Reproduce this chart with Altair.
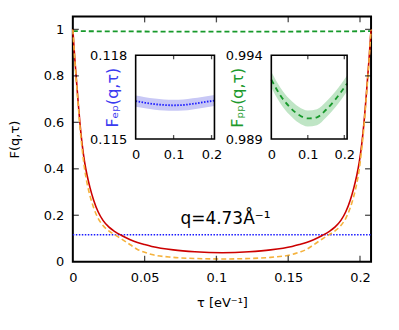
import altair as alt
import pandas as pd

TAU_MAX = 0.2077

# main curves
tau = [0.0, 0.0013, 0.0026, 0.0038, 0.0049, 0.0065, 0.0083, 0.0100, 0.0120, 0.0145,
       0.0176, 0.0210, 0.0250, 0.0290, 0.0340, 0.0400, 0.0450, 0.0500, 0.0550, 0.0700,
       0.0850, 0.1040, 0.1227, 0.1377, 0.1527, 0.1577, 0.1627, 0.1677, 0.1737, 0.1787,
       0.1827, 0.1867, 0.1901, 0.1932, 0.1957, 0.1977, 0.1994, 0.2012, 0.2028, 0.2039,
       0.2051, 0.2064, 0.2077]
f_red = [1.000, 0.880, 0.775, 0.680, 0.600, 0.505, 0.425, 0.370, 0.318, 0.265,
         0.215, 0.178, 0.150, 0.131, 0.113, 0.095, 0.083, 0.074, 0.066, 0.051,
         0.043, 0.039, 0.043, 0.051, 0.066, 0.074, 0.083, 0.095, 0.113, 0.131,
         0.150, 0.178, 0.215, 0.265, 0.318, 0.370, 0.425, 0.505, 0.600, 0.680,
         0.775, 0.880, 1.000]
f_orange = [1.000, 0.875, 0.765, 0.670, 0.585, 0.485, 0.395, 0.335, 0.283, 0.232,
            0.187, 0.156, 0.133, 0.117, 0.098, 0.073, 0.053, 0.041, 0.031, 0.019,
            0.014, 0.012, 0.014, 0.019, 0.031, 0.041, 0.053, 0.073, 0.098, 0.117,
            0.133, 0.156, 0.187, 0.232, 0.283, 0.335, 0.395, 0.485, 0.585, 0.670,
            0.765, 0.875, 1.000]

# F_ep and F_pp with error bands
tau_s = [0.0, 0.025, 0.05, 0.075, 0.1, 0.125, 0.15, 0.175, 0.2077]
f_ep = [0.11636, 0.11630, 0.11625, 0.11622, 0.11621, 0.11622, 0.11626, 0.11631, 0.11638]
f_ep_err = [0.00020, 0.00020, 0.00020, 0.00020, 0.00020, 0.00020, 0.00020, 0.00020, 0.00020]
f_pp = [0.99255, 0.99160, 0.99092, 0.99045, 0.99023, 0.99030, 0.99075, 0.99135, 0.99232]
f_pp_err = [0.00047, 0.00047, 0.00047, 0.00048, 0.00048, 0.00048, 0.00047, 0.00047, 0.00047]

main_xticks = [0.05, 0.1, 0.15, 0.2]
main_yticks = [0.2, 0.4, 0.6, 0.8, 1.0]
inset_xticks = [0.1, 0.2]

FONT = "DejaVu Sans"
RED = "#cc0000"
ORANGE = "#f5b23d"
BLUE = "#1a1aff"
GREEN = "#17992b"

df_main = pd.DataFrame({"tau": tau, "red": f_red, "orange": f_orange})
df_s = pd.DataFrame({"tau": tau_s, "ep": f_ep, "ep_err": f_ep_err,
                     "pp": f_pp, "pp_err": f_pp_err})
df_s["ep_lo"] = df_s["ep"] - df_s["ep_err"]
df_s["ep_hi"] = df_s["ep"] + df_s["ep_err"]
df_s["pp_lo"] = df_s["pp"] - df_s["pp_err"]
df_s["pp_hi"] = df_s["pp"] + df_s["pp_err"]
one = pd.DataFrame({"a": [0]})

# ---------- main panel ----------
YMAX = 1.056
sx = alt.Scale(domain=[0, TAU_MAX], nice=False, zero=False)
sy = alt.Scale(domain=[0, YMAX], nice=False, zero=False)
ax = alt.Axis(orient="bottom", values=[0, 0.05, 0.1, 0.15, 0.2], format="~g", ticks=False,
              tickSize=0, domain=False, grid=False, labelPadding=10, labelFlush=False,
              labelOverlap=False, title="τ [eV⁻¹]", titleY=41, titleBaseline="middle")
ay = alt.Axis(orient="left", values=[0, 0.2, 0.4, 0.6, 0.8, 1.0], format="~g", ticks=False,
              tickSize=0, domain=False, grid=False, labelPadding=9, labelOverlap=False,
              title="F(q,τ)", titleX=-58, titleY=123, titleAngle=270,
              titleAlign="center", titleBaseline="middle")

X = lambda f: alt.X(f, type="quantitative", scale=sx, axis=ax)
Y = lambda f: alt.Y(f, type="quantitative", scale=sy, axis=ay)

red = alt.Chart(df_main).mark_line(color=RED, strokeWidth=1.6, interpolate="monotone").encode(
    x=X("tau"), y=Y("red"))
orange = alt.Chart(df_main).mark_line(color=ORANGE, strokeWidth=1.6, strokeDash=[5, 3],
                                      interpolate="monotone").encode(x=X("tau"), y=Y("orange"))
blue_main = alt.Chart(df_s).mark_line(color=BLUE, strokeWidth=1.5, strokeDash=[1.5, 1.5],
                                      interpolate="monotone").encode(x=X("tau"), y=Y("ep"))
green_main = alt.Chart(df_s).mark_line(color=GREEN, strokeWidth=1.8, strokeDash=[5, 3],
                                       interpolate="monotone").encode(x=X("tau"), y=Y("pp"))
qlabel = alt.Chart(one).mark_text(text="q=4.73Å⁻¹", font=FONT, fontSize=17, align="center",
                                  baseline="alphabetic", color="black").encode(
    x=alt.X(datum=0.1063, type="quantitative", scale=sx, axis=ax),
    y=alt.Y(datum=0.163, type="quantitative", scale=sy, axis=ay))

dxt = pd.DataFrame({"v": main_xticks})
dyt = pd.DataFrame({"v": main_yticks})
tick_b = alt.Chart(dxt).mark_tick(orient="vertical", size=6, thickness=1.3, yOffset=-3,
                                  color="black").encode(
    x=X("v"), y=alt.Y(datum=0, type="quantitative", scale=sy, axis=ay))
tick_t = alt.Chart(dxt).mark_tick(orient="vertical", size=6, thickness=1.3, yOffset=3,
                                  color="black").encode(
    x=X("v"), y=alt.Y(datum=YMAX, type="quantitative", scale=sy, axis=ay))
tick_l = alt.Chart(dyt).mark_tick(orient="horizontal", size=6, thickness=1.3, xOffset=3,
                                  color="black").encode(
    y=Y("v"), x=alt.X(datum=0, type="quantitative", scale=sx, axis=ax))
tick_r = alt.Chart(dyt).mark_tick(orient="horizontal", size=6, thickness=1.3, xOffset=-3,
                                  color="black").encode(
    y=Y("v"), x=alt.X(datum=TAU_MAX, type="quantitative", scale=sx, axis=ax))

main = alt.layer(green_main, blue_main, red, orange, qlabel, tick_b, tick_t, tick_l, tick_r)


# ---------- insets ----------
def inset(field, lo, hi, ymin, ymax, xr, color, band_color, title, title_color, dash,
          title_x):
    sxi = alt.Scale(domain=[0, TAU_MAX], range=xr, nice=False, zero=False)
    syi = alt.Scale(domain=[ymin, ymax], range=[123, 39], nice=False, zero=False)
    axi = alt.Axis(orient="bottom", offset=-123, values=[0, 0.1, 0.2], format="~g",
                   ticks=False, tickSize=0, domain=False, grid=False, labelPadding=9,
                   labelFlush=False, labelOverlap=False, title=None)
    ayi = alt.Axis(orient="left", offset=-xr[0], values=[ymin, ymax], format="~g",
                   ticks=False, tickSize=0, domain=False, grid=False, labelPadding=9,
                   labelOverlap=False, labelFlush=False, title=title, titleColor=title_color,
                   titleFontSize=16, titleX=title_x, titleY=81, titleAngle=270,
                   titleAlign="center", titleBaseline="middle")
    Xi = lambda f: alt.X(f, type="quantitative", scale=sxi, axis=axi)
    Yi = lambda f: alt.Y(f, type="quantitative", scale=syi, axis=ayi)
    Xd = lambda v: alt.X(datum=v, type="quantitative", scale=sxi, axis=axi)
    Yd = lambda v: alt.Y(datum=v, type="quantitative", scale=syi, axis=ayi)
    band = alt.Chart(df_s).mark_area(color=band_color, interpolate="monotone").encode(
        x=Xi("tau"), y=Yi(lo), y2=alt.Y2(hi))
    line = alt.Chart(df_s).mark_line(color=color, strokeWidth=1.8, strokeDash=dash,
                                     interpolate="monotone").encode(x=Xi("tau"), y=Yi(field))
    frame = alt.Chart(one).mark_rect(fillOpacity=0, stroke="black", strokeWidth=1.6).encode(
        x=Xd(0), x2=alt.X2(datum=TAU_MAX), y=Yd(ymin), y2=alt.Y2(datum=ymax))
    dti = pd.DataFrame({"v": inset_xticks})
    tb = alt.Chart(dti).mark_tick(orient="vertical", size=4, thickness=1.3, yOffset=-2,
                                  color="black").encode(x=Xi("v"), y=Yd(ymin))
    tt = alt.Chart(dti).mark_tick(orient="vertical", size=4, thickness=1.3, yOffset=2,
                                  color="black").encode(x=Xi("v"), y=Yd(ymax))
    return alt.layer(band, line, frame, tb, tt)


inset1 = inset("ep", "ep_lo", "ep_hi", 0.115, 0.118, [63, 142], BLUE, "#c8c8f6",
               "Fₑₚ(q,τ)", "#3b3bf0", [1.5, 1.5], -23)
inset2 = inset("pp", "pp_lo", "pp_hi", 0.989, 0.994, [199, 275], GREEN, "#bfe5c5",
               "Fₚₚ(q,τ)", "#1d9a2d", [5, 4], -34)

chart = alt.layer(main, inset1, inset2).resolve_scale(
    x="independent", y="independent"
).properties(
    width=299, height=246, autosize="none",
    padding={"left": 65, "top": 8, "right": 20, "bottom": 60},
).configure_view(
    stroke="black", strokeWidth=2
).configure_axis(
    labelFont=FONT, labelFontSize=13, labelColor="black",
    titleFont=FONT, titleFontSize=13, titleColor="black", titleFontWeight="normal"
).configure_text(font=FONT)

chart.save("out.html", embed_options={"renderer": "svg", "actions": False})
